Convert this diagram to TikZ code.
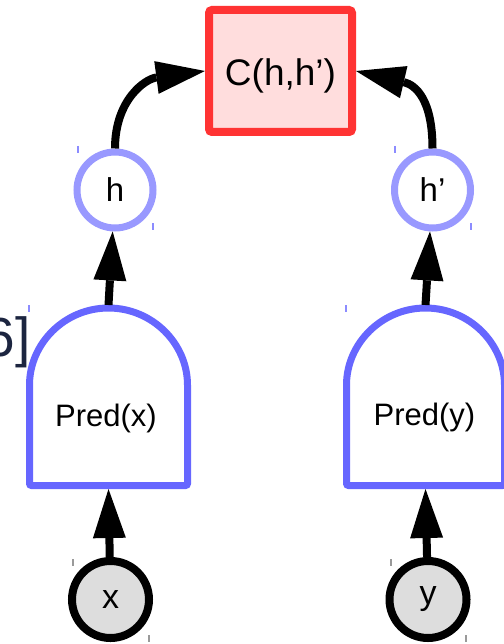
\documentclass[tikz,border=0pt]{standalone}
\usepackage{fontspec}
\setmainfont{Liberation Sans}
\usetikzlibrary{arrows.meta}
\definecolor{boxred}{HTML}{FF3333}
\definecolor{boxpink}{HTML}{FFDDDD}
\definecolor{predblue}{HTML}{6666FF}
\definecolor{hidblue}{HTML}{9999FF}
\definecolor{obsgray}{HTML}{DDDDDD}
\definecolor{refnavy}{HTML}{1C2540}
\definecolor{handleblue}{HTML}{8C8CFF}
\definecolor{handlegray}{HTML}{9A9A9A}

\begin{document}
\begin{tikzpicture}[x=1pt,y=1pt,
  cost/.style={draw=boxred, fill=boxpink, line width=8pt, rounded corners=3pt,
    minimum width=143pt, minimum height=122pt, inner sep=0pt,
    font=\fontsize{37}{40}\selectfont, text height=37pt, text depth=7.8pt},
  hidden/.style={circle, draw=hidblue, fill=white, line width=7pt,
    minimum size=76pt, inner sep=0pt, font=\fontsize{33}{36}\selectfont},
  observed/.style={circle, draw=black, fill=obsgray, line width=8pt,
    minimum size=77pt, inner sep=0pt, font=\fontsize{34}{38}\selectfont},
  predframe/.style={rectangle, minimum width=165pt, minimum height=184pt,
    inner sep=0pt, outer sep=0pt},
  predline/.style={draw=predblue, line width=7pt, rounded corners=2pt},
  predlabel/.style={font=\fontsize{31}{34}\selectfont, inner sep=0pt},
  flow/.style={draw=black, line width=8pt,
    -{Triangle[length=49pt,width=33pt,line width=0pt]}},
  handle/.style={line width=1.3pt}
]
\useasboundingbox (0,0) rectangle (503,-644);

% citation fragment at the left edge
\node[font=\fontsize{55}{60}\selectfont, text=refnavy, anchor=base east, inner sep=0pt]
  (cite) at (31,-356) {6]};

% cost node
\node[cost] (C) at (280.5,-71) {C(h,h’)};

% hidden representations
\node[hidden] (h) at (115,-190) {h};
\node[hidden] (hp) at (432.5,-190) {h’};

% predictor blocks (dome shapes)
\node[predframe] (predx) at (108.5,-397) {};
\draw[predline] ([shift={(3.5,3.5)}]predx.south west) -- ++(0,98.5)
  arc[start angle=180,end angle=0,radius=79pt]
  -- ([shift={(-3.5,3.5)}]predx.south east) -- cycle;
\node[predlabel] (predxl) at (106,-418) {Pred(x)};

\node[predframe] (predy) at (425.5,-397) {};
\draw[predline] ([shift={(3.5,3.5)}]predy.south west) -- ++(0,98.5)
  arc[start angle=180,end angle=0,radius=79pt]
  -- ([shift={(-3.5,3.5)}]predy.south east) -- cycle;
\node[predlabel] (predyl) at (424.5,-417) {Pred(y)};

% inputs
\node[observed] (x) at (110.5,-599.5) {x};
\node[observed] (y) at (428,-599.5) {y};

% connectors
\draw[flow] (x) -- (predx.south);
\draw[flow] (y) -- (predy.south);
\draw[flow] (predx.north) -- (h);
\draw[flow] (predy.north) -- (hp);
\draw[flow] (h.north) .. controls (115,-100) and (145,-79) .. (C.west);
\draw[flow] (hp.north) .. controls (432.5,-100) and (416,-85) .. (C.east);

% selection handles
\foreach \px/\py in {29/305, 346/305, 78/146, 153/223, 395/146, 471/223}
  \draw[handle, draw=handleblue] (\px,-\py) -- ++(0,-7);
\foreach \px/\py in {73/559, 149/635, 391/559, 466/635}
  \draw[handle, draw=handlegray] (\px,-\py) -- ++(0,-7);
\end{tikzpicture}
\end{document}
